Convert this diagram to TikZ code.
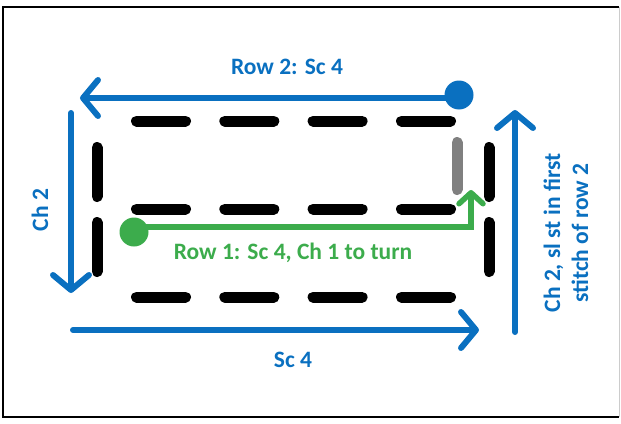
\documentclass[tikz,border=0pt]{standalone}
\usepackage{fontspec}
\setmainfont{Carlito}
\usetikzlibrary{arrows.meta,positioning}
\definecolor{rowblue}{RGB}{10,112,192}
\definecolor{rowgreen}{RGB}{60,172,76}
\tikzset{
  stitch/.style={line width=11pt, line cap=round, black},
  turnstitch/.style={line width=11pt, line cap=round, gray},
  bluepath/.style={draw=rowblue, line width=6pt, line cap=round, -{Straight Barb[length=15pt,width=36pt,round]}},
  greenpath/.style={draw=rowgreen, line width=5.5pt, -{Straight Barb[length=11pt,width=24pt,round]}},
  stitchdot/.style={circle, inner sep=0pt, minimum size=29pt},
  lbl/.style={font=\fontsize{23.5}{28}\selectfont\bfseries, inner sep=0pt}
}
\begin{document}
\begin{tikzpicture}[x=1pt,y=-1pt]
\useasboundingbox (0,0) rectangle (621,423);
% frame
\draw[line width=2.5pt] (619,7) -- (3,7) -- (3,417) -- (619,417);
\draw[gray!40, line width=0.8pt] (619,7) -- (619,417);

% stitches: foundation chain, row 1, row 2
\foreach \y in {121,209,297}
  \foreach \x in {131,219.3,307.6,396}
    \draw[stitch] (\x+5.5,\y) -- ++(49,0);
% turning chains
\foreach \x in {97,489}
  \foreach \y in {142,217}
    \draw[stitch] (\x,\y+5.5) -- ++(0,49);
\draw[turnstitch] (457,142.5) -- (457,189.5);

% row 1
\node[stitchdot, fill=rowgreen] (r1start) at (134,232) {};
\coordinate (r1turn) at (471,227);
\coordinate (r1end) at (471,190);
\draw[greenpath] (r1start.center |- r1turn) -- (r1turn) -- (r1end);
\node[lbl, text=rowgreen] (r1lbl) at (293,253) {Row 1: Sc 4, Ch 1 to turn};

% row 2
\node[stitchdot, fill=rowblue] (r2start) at (459,95) {};
\coordinate (r2end) at (80,98);
\draw[bluepath] (r2start.center |- r2end) -- (r2end);
\node[lbl, text=rowblue] (r2lbl) at (287,67) {Row 2: Sc 4};

% chain down
\coordinate (chtop) at (71,113);
\coordinate (chbot) at (71,293);
\draw[bluepath] (chtop) -- (chbot);
\node[lbl, text=rowblue, rotate=90] (chlbl) at (40,210) {Ch 2};

% foundation row
\coordinate (fstart) at (73,330);
\coordinate (fend) at (479,330);
\draw[bluepath] (fstart) -- (fend);
\node[lbl, text=rowblue] (flbl) at (293,360) {Sc 4};

% turn up
\coordinate (tbot) at (515,332);
\coordinate (ttop) at (515,110);
\draw[bluepath] (tbot) -- (ttop);
\node[lbl, text=rowblue, rotate=90, align=center] (tlbl) at (566,233) {Ch 2, sl st in first\\stitch of row 2};
\end{tikzpicture}
\end{document}
